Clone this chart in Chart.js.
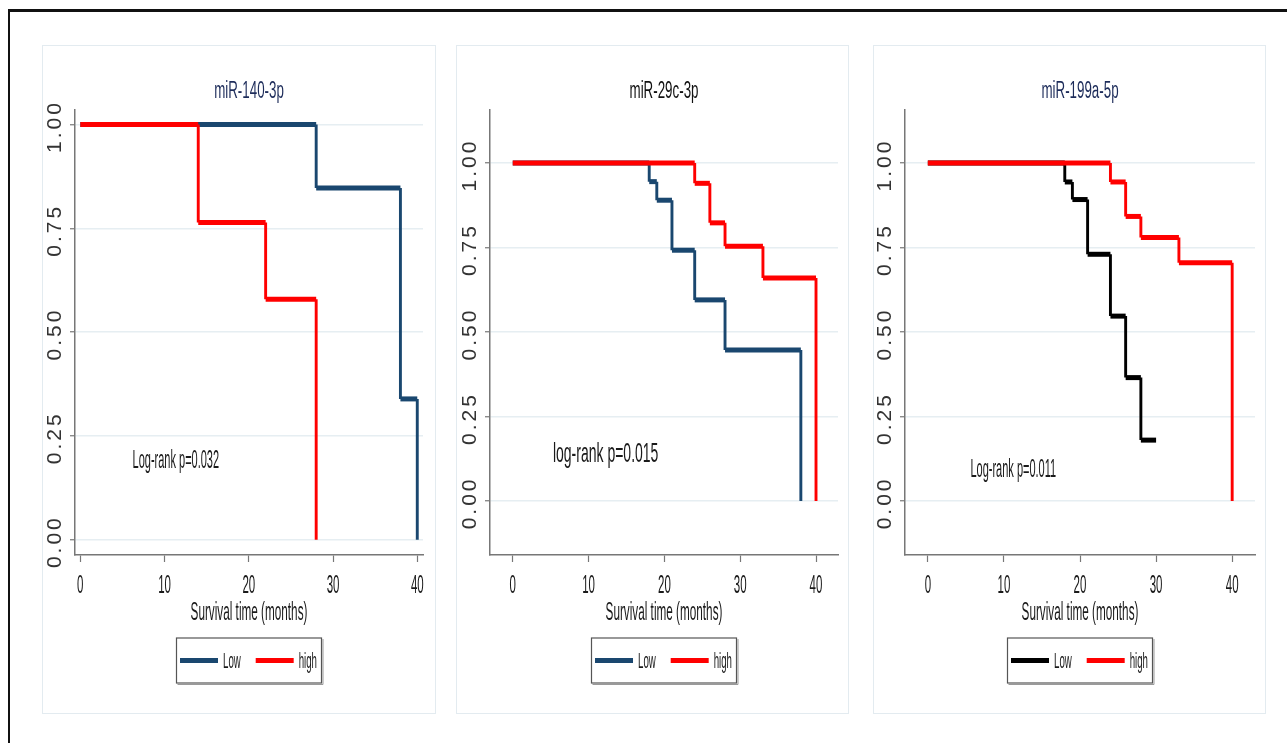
<!DOCTYPE html>
<html lang="en">
<head>
<meta charset="UTF-8">
<title>Survival by miRNA expression</title>
<script src="https://cdn.jsdelivr.net/npm/chart.js"></script>
<style>
  body { margin: 0; background: #fff; width: 1287px; height: 743px; position: relative; overflow: hidden; }
  .frame-top { position: absolute; left: 8px; top: 9px; right: 0; height: 3px; background: #111; }
  .frame-left { position: absolute; left: 8px; top: 9px; bottom: 0; width: 2px; background: #111; }
  .panel { position: absolute; top: 46px; height: 667px; outline: 1px solid #e3ebf0; }
  canvas { display: block; }
</style>
</head>
<body>
<div class="frame-top"></div>
<div class="frame-left"></div>

<div class="panel" style="left:43px;width:392px"><canvas id="c140" width="392" height="667"></canvas></div>
<div class="panel" style="left:457px;width:391px"><canvas id="c29c" width="391" height="667"></canvas></div>
<div class="panel" style="left:874px;width:391px"><canvas id="c199" width="391" height="667"></canvas></div>

<script>
const xTicks = [0, 10, 20, 30, 40];
const yTicks = [0, 0.25, 0.5, 0.75, 1];
const yTickLabels = ['0.00', '0.25', '0.50', '0.75', '1.00'];
const groupNames = ['Low', 'high'];

// miR-140-3p : time of each step and survival after it
const t140Low = [0, 28, 38, 40];
const s140Low = [1, 0.847, 0.339, 0];
const t140High = [0, 14, 22, 28];
const s140High = [1, 0.764, 0.579, 0];

// miR-29c-3p
const t29cLow = [0, 18, 19, 21, 24, 28, 38];
const s29cLow = [1, 0.945, 0.89, 0.742, 0.595, 0.447, 0];
const t29cHigh = [0, 24, 26, 28, 33, 40];
const s29cHigh = [1, 0.94, 0.823, 0.754, 0.66, 0];

// miR-199a-5p (low group censored at 30)
const t199Low = [0, 18, 19, 21, 24, 26, 28, 30];
const s199Low = [1, 0.944, 0.892, 0.73, 0.547, 0.365, 0.18, 0.18];
const t199High = [0, 24, 26, 28, 33, 40];
const s199High = [1, 0.944, 0.842, 0.78, 0.705, 0];

const FONT = '"Liberation Sans", Arial, sans-serif';

function kmPoints(t, s) {
  const pts = [{ x: t[0], y: s[0] }];
  for (let i = 1; i < t.length; i++) {
    pts.push({ x: t[i], y: s[i - 1] }, { x: t[i], y: s[i] });
  }
  return pts;
}

// stata output is squeezed sideways, so text is drawn narrow
function drawText(ctx, str, x, y, size, sx, color, align, baseline) {
  ctx.save();
  ctx.translate(x, y);
  ctx.scale(sx, 1);
  ctx.font = size + 'px ' + FONT;
  ctx.fillStyle = color;
  ctx.textAlign = align || 'center';
  ctx.textBaseline = baseline || 'alphabetic';
  ctx.fillText(str, 0, 0);
  ctx.restore();
}

const stataText = {
  id: 'stataText',
  afterDraw(chart, args, opts) {
    const p = opts.panel;
    const { ctx, chartArea: a } = chart;
    const x = chart.scales.x, y = chart.scales.y;
    const cx = (a.left + a.right) / 2;

    drawText(ctx, p.title, cx, 52, 23, 0.58, p.titleColor);

    x.ticks.forEach(t => {
      drawText(ctx, String(t.value), x.getPixelForValue(t.value), a.bottom + 38, 25, 0.46, '#1a1a1a');
    });
    drawText(ctx, 'Survival time (months)', cx, a.bottom + 65, 25, 0.47, '#1a1a1a');

    y.ticks.forEach(t => {
      ctx.save();
      ctx.translate(a.left - 20, y.getPixelForValue(t.value) + 2);
      ctx.rotate(-Math.PI / 2);
      ctx.font = '21px ' + FONT;
      ctx.letterSpacing = '3px';
      ctx.fillStyle = '#333';
      ctx.textAlign = 'center';
      ctx.textBaseline = 'middle';
      ctx.fillText(yTickLabels[yTicks.indexOf(t.value)], 0, 0);
      ctx.restore();
    });

    drawText(ctx, p.note, x.getPixelForValue(p.noteX), y.getPixelForValue(p.noteY),
      p.noteSize, p.noteScale, '#1a1a1a', 'left', 'middle');

    // legend box
    const lw = 145, lh = 45;
    const lx = cx - lw / 2, ly = a.bottom + 83;
    ctx.save();
    ctx.strokeStyle = '#9a9a9a';
    ctx.lineWidth = 1;
    ctx.beginPath();
    ctx.moveTo(lx + 1, ly + lh + 1.5); ctx.lineTo(lx + lw + 1.5, ly + lh + 1.5); ctx.lineTo(lx + lw + 1.5, ly + 1);
    ctx.stroke();
    ctx.strokeStyle = '#555';
    ctx.lineWidth = 1.2;
    ctx.strokeRect(lx, ly, lw, lh);
    chart.data.datasets.forEach((ds, i) => {
      const sx = lx + 3.5 + i * 75.7;
      ctx.beginPath();
      ctx.moveTo(sx, ly + 22.5);
      ctx.lineTo(sx + 38, ly + 22.5);
      ctx.lineWidth = 5;
      ctx.strokeStyle = ds.borderColor;
      ctx.stroke();
      drawText(ctx, ds.label, sx + 43, ly + 30, 22, 0.44, '#1a1a1a', 'left');
    });
    ctx.restore();
  }
};

const panels = [
  {
    id: 'c140', title: 'miR-140-3p', titleColor: '#1d2c5a', lowColor: '#1a476f',
    xMin: -0.63, xMax: 40.68, yMin: -0.037, yMax: 1.035, yWidth: 32, padRight: 12,
    note: 'Log-rank p=0.032', noteX: 6.2, noteY: 0.19, noteSize: 25, noteScale: 0.44,
    low: [t140Low, s140Low], high: [t140High, s140High]
  },
  {
    id: 'c29c', title: 'miR-29c-3p', titleColor: '#111', lowColor: '#1a476f',
    xMin: -3.0, xMax: 42.9, yMin: -0.16, yMax: 1.157, yWidth: 33, padRight: 10,
    note: 'log-rank p=0.015', noteX: 5.3, noteY: 0.139, noteSize: 28, noteScale: 0.5,
    low: [t29cLow, s29cLow], high: [t29cHigh, s29cHigh]
  },
  {
    id: 'c199', title: 'miR-199a-5p', titleColor: '#1d2c5a', lowColor: '#000',
    xMin: -3.0, xMax: 43.0, yMin: -0.16, yMax: 1.157, yWidth: 31, padRight: 10,
    note: 'Log-rank p=0.011', noteX: 5.6, noteY: 0.091, noteSize: 25, noteScale: 0.44,
    low: [t199Low, s199Low], high: [t199High, s199High]
  }
];

// horizontal runs come out thicker than the drops in the original
const stepWidth = ctx => ctx.p0.parsed.x === ctx.p1.parsed.x ? 2.9 : 5;

panels.forEach(p => {
  new Chart(document.getElementById(p.id), {
    type: 'line',
    data: {
      datasets: [
        { label: groupNames[0], data: kmPoints(p.low[0], p.low[1]), borderColor: p.lowColor, order: 2 },
        { label: groupNames[1], data: kmPoints(p.high[0], p.high[1]), borderColor: '#ff0000', order: 1 }
      ].map(ds => Object.assign(ds, {
        borderWidth: 5, pointRadius: 0, fill: false, clip: false,
        segment: { borderWidth: stepWidth }
      }))
    },
    options: {
      responsive: false,
      animation: false,
      layout: { padding: { left: 0, top: 64, right: p.padRight, bottom: 0 } },
      plugins: {
        legend: { display: false },
        tooltip: { enabled: false },
        stataText: { panel: p }
      },
      scales: {
        x: {
          type: 'linear', min: p.xMin, max: p.xMax,
          afterBuildTicks: s => { s.ticks = xTicks.map(v => ({ value: v })); },
          afterFit: s => { s.height = 158; },
          ticks: { display: false },
          grid: { drawOnChartArea: false, tickLength: 7, tickColor: '#777', tickWidth: 1.2 },
          border: { color: '#777', width: 1.5 }
        },
        y: {
          type: 'linear', min: p.yMin, max: p.yMax,
          afterBuildTicks: s => { s.ticks = yTicks.map(v => ({ value: v })); },
          afterFit: s => { s.width = p.yWidth; },
          ticks: { display: false },
          grid: { color: '#e6eef2', lineWidth: 1.5, tickLength: 5, tickColor: '#777', tickWidth: 1.2 },
          border: { color: '#777', width: 1.5 }
        }
      }
    },
    plugins: [stataText]
  });
});
</script>
</body>
</html>
